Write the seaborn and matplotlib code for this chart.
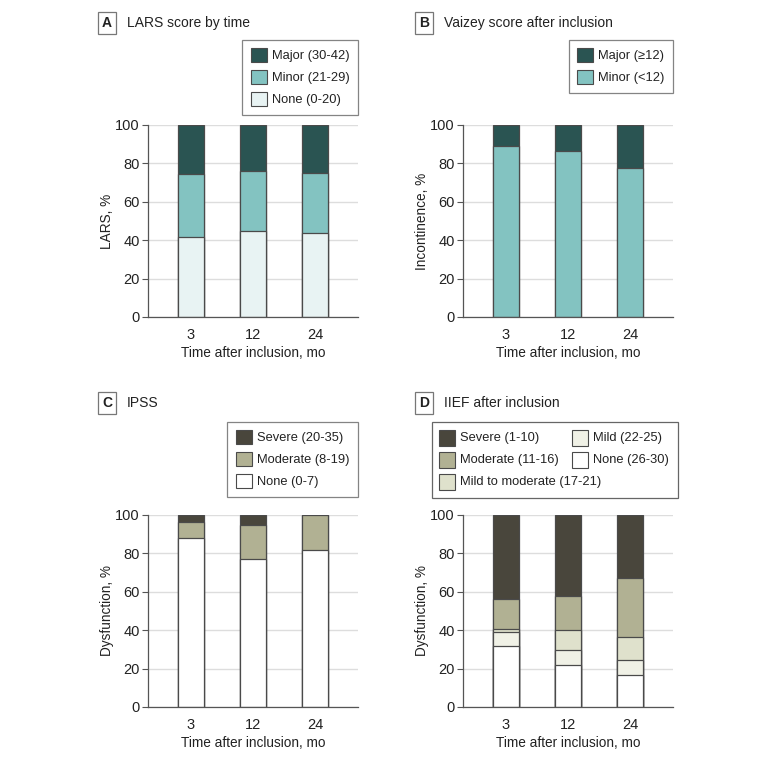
import numpy as np
import pandas as pd
import matplotlib
matplotlib.use('Agg')
import matplotlib.pyplot as plt
import seaborn as sns
from matplotlib.patches import Patch, Rectangle

# data (percent of patients per category)
times = ['3', '12', '24']

lars_none = [41.7, 44.8, 43.7]
lars_minor = [32.6, 31.2, 31.1]
lars_major = [25.7, 24.0, 25.2]

vaizey_minor = [88.9, 86.3, 77.4]
vaizey_major = [11.1, 13.7, 22.6]

ipss_none = [87.9, 77.0, 81.8]
ipss_moderate = [8.3, 18.0, 18.2]
ipss_severe = [3.8, 5.0, 0.0]

iief_none = [32.0, 22.0, 16.6]
iief_mild = [7.0, 7.6, 7.8]
iief_mildmod = [1.6, 10.4, 12.2]
iief_moderate = [15.7, 18.0, 30.8]
iief_severe = [43.7, 42.0, 32.6]

sns.set_theme(style='whitegrid')
plt.rcParams['font.family'] = ['Liberation Sans', 'DejaVu Sans']

teal = ['#e8f3f3', '#83c3c1', '#2a5452']
olive5 = ['#ffffff', '#f0f1e6', '#dfe1cc', '#b1b193', '#49463c']
olive3 = ['#ffffff', '#b1b193', '#49463c']
EDGE = '#4a4a4a'
TXT = '#222222'
LEG_FS = 9.3

fig = plt.figure(figsize=(7.8, 7.62), dpi=100)
W, H = 780, 762


def fx(px):
    return px / W


def fy(py):
    return 1 - py / H


def make_ax(x0, top):
    return fig.add_axes([fx(x0), fy(top + 192), 210 / W, 192 / H])


def stacked(ax, layers, colors, ylabel):
    cum = np.cumsum(np.array(layers), axis=0)
    # draw tallest cumulative first so lower layers paint over
    for i in range(len(layers) - 1, -1, -1):
        df = pd.DataFrame({'t': times, 'v': cum[i]})
        sns.barplot(data=df, x='t', y='v', color=colors[i], width=0.43,
                    edgecolor=EDGE, linewidth=0.9, saturation=1, ax=ax)
    ax.set_xlim(-0.69, 2.69)
    ax.set_ylim(0, 100)
    ax.set_yticks([0, 20, 40, 60, 80, 100])
    ax.set_xlabel('Time after inclusion, mo', fontsize=9.8, color=TXT, labelpad=3)
    ax.set_ylabel(ylabel, fontsize=9.8, color=TXT, labelpad=1)
    ax.grid(axis='x', visible=False)
    ax.grid(axis='y', color='#dddddd', linewidth=1)
    ax.set_axisbelow(True)
    for s in ['top', 'right']:
        ax.spines[s].set_visible(False)
    for s in ['left', 'bottom']:
        ax.spines[s].set_visible(True)
        ax.spines[s].set_color('#555555')
        ax.spines[s].set_linewidth(0.9)
    ax.tick_params(axis='y', left=True, length=4, width=0.8, color='#555555',
                   labelsize=10.5, labelcolor=TXT, pad=2)
    ax.tick_params(axis='x', bottom=False, labelsize=10.5, labelcolor=TXT, pad=2)
    ax.set_facecolor('white')


def legend(ax, colors, labels, top_px):
    handles = [Patch(facecolor=c, edgecolor=EDGE, linewidth=0.8, label=l)
               for c, l in zip(colors, labels)][::-1]
    right = ax.get_position().x1
    leg = fig.legend(handles=handles, loc='upper right',
                     bbox_to_anchor=(right, fy(top_px)), fontsize=LEG_FS,
                     frameon=True, fancybox=False, edgecolor='#666666',
                     handlelength=1.25, handleheight=1.2, handletextpad=0.4,
                     labelspacing=0.62, borderpad=0.65, borderaxespad=0)
    leg.get_frame().set_linewidth(0.9)
    for t in leg.get_texts():
        t.set_color(TXT)


def title(x_box, y, letter, text):
    fig.text(fx(x_box), fy(y), letter, fontsize=10, fontweight='bold',
             ha='center', va='center', color=TXT,
             bbox=dict(boxstyle='square,pad=0.3', facecolor='white', edgecolor='#777777', linewidth=0.9))
    fig.text(fx(x_box + 20), fy(y), text, fontsize=10, ha='left', va='center', color=TXT)


axA = make_ax(148, 125)
stacked(axA, [lars_none, lars_minor, lars_major], teal, 'LARS, %')
legend(axA, teal, ['None (0-20)', 'Minor (21-29)', 'Major (30-42)'], 40)
title(107, 23, 'A', 'LARS score by time')

axB = make_ax(463, 125)
stacked(axB, [vaizey_minor, vaizey_major], teal[1:], 'Incontinence, %')
legend(axB, teal[1:], ['Minor (<12)', 'Major (≥12)'], 40)
title(424, 23, 'B', 'Vaizey score after inclusion')

axC = make_ax(148, 515)
stacked(axC, [ipss_none, ipss_moderate, ipss_severe], olive3, 'Dysfunction, %')
legend(axC, olive3, ['None (0-7)', 'Moderate (8-19)', 'Severe (20-35)'], 422)
title(107, 403, 'C', 'IPSS')

axD = make_ax(463, 515)
stacked(axD, [iief_none, iief_mild, iief_mildmod, iief_moderate, iief_severe], olive5, 'Dysfunction, %')
title(424, 403, 'D', 'IIEF after inclusion')

# IIEF legend: second column starts under the long first-column label, so lay it out by hand
d_labels = ['Severe (1-10)', 'Moderate (11-16)', 'Mild to moderate (17-21)', 'Mild (22-25)', 'None (26-30)']
d_colors = [olive5[4], olive5[3], olive5[2], olive5[1], olive5[0]]
d_slots = [(439, 438), (439, 460), (439, 482), (572, 438), (572, 460)]
fig.add_artist(Rectangle((fx(432), fy(498)), 246 / W, 76 / H, transform=fig.transFigure,
                         facecolor='white', edgecolor='#666666', linewidth=0.9))
for lab, col, (px, py) in zip(d_labels, d_colors, d_slots):
    fig.add_artist(Rectangle((fx(px), fy(py + 8)), 16 / W, 16 / H, transform=fig.transFigure,
                             facecolor=col, edgecolor=EDGE, linewidth=0.8))
    fig.text(fx(px + 21), fy(py), lab, fontsize=LEG_FS, ha='left', va='center', color=TXT)

fig.savefig('out.png', dpi=100, facecolor='white')
